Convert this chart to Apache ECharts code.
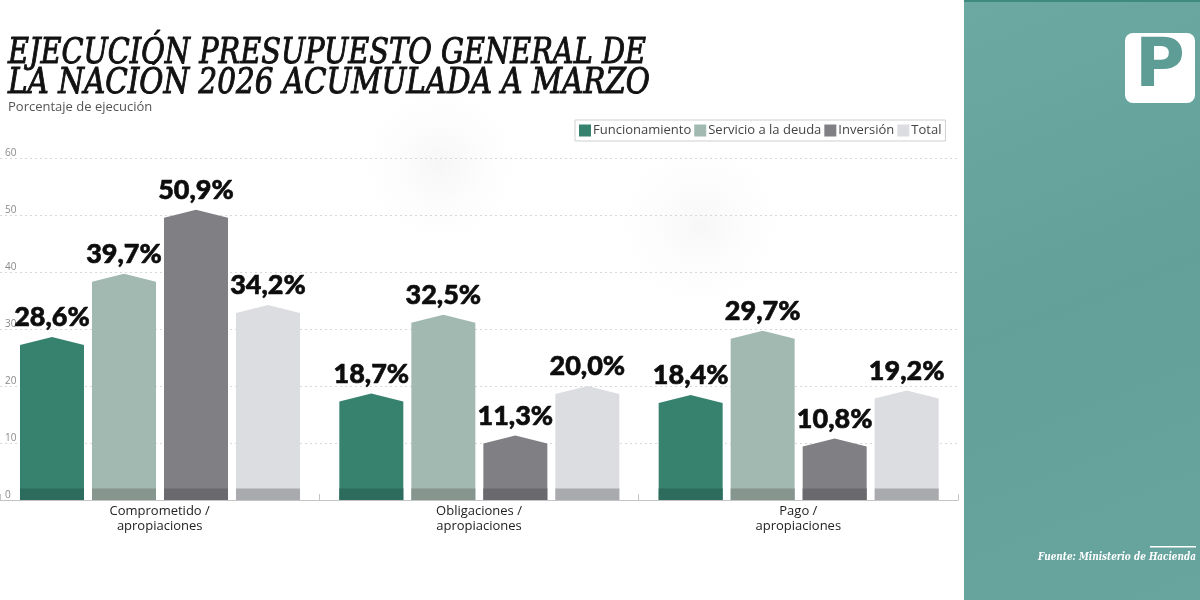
<!DOCTYPE html>
<html><head><meta charset="utf-8">
<script src="https://cdn.jsdelivr.net/npm/echarts@6/dist/echarts.min.js"></script>
<style>html,body{margin:0;padding:0;background:#fff}#c{width:1200px;height:600px}</style>
</head><body><div id="c"></div>
<script>
const categories = ['Comprometido /\napropiaciones', 'Obligaciones /\napropiaciones', 'Pago /\napropiaciones'];
const seriesNames = ['Funcionamiento', 'Servicio a la deuda', 'Inversión', 'Total'];
const funcionamiento = [28.6, 18.7, 18.4];
const servicioDeuda = [39.7, 32.5, 29.7];
const inversion = [50.9, 11.3, 10.8];
const total = [34.2, 20.0, 19.2];
const yTicks = [0, 10, 20, 30, 40, 50, 60];

const seriesValues = [funcionamiento, servicioDeuda, inversion, total];
const mainColors = ['#37826f', '#a1b9b1', '#808084', '#dcdde1'];
const baseColors = ['#2d6b5c', '#86968f', '#6a6a6e', '#a9aaad'];

const chart = echarts.init(document.getElementById('c'));

function measure(font, txt){
  const cv = document.createElement('canvas').getContext('2d');
  cv.font = font; return cv.measureText(txt).width;
}
const titleFont = 'italic 35px "DejaVu Serif"';
const t1 = 'EJECUCIÓN PRESUPUESTO GENERAL DE';
const t2 = 'LA NACIÓN 2026 ACUMULADA A MARZO';
const sx1 = 638 / measure(titleFont, t1);
const sx2 = 642 / measure(titleFont, t2);
const srcFont = 'italic bold 11.5px "DejaVu Serif"';
const srcText = 'Fuente: Ministerio de Hacienda';
const sxSrc = 158 / measure(srcFont, srcText);

function renderItem(params, api){
  const si = params.seriesIndex;
  const band = api.size([1, 0])[0];
  const barW = band * 0.2004;
  const step = band * 0.2255;
  const catIdx = api.value(0);
  const val = api.value(1);
  const bandStart = api.coord([catIdx, 0])[0] - band / 2;
  const x0 = bandStart + band * 0.0626 + si * step;
  const x1 = x0 + barW;
  const top = api.coord([catIdx, val])[1];
  const base = api.coord([catIdx, 0])[1];
  const stripTop = api.coord([catIdx, 2])[1];
  const peak = 8;
  const xm = (x0 + x1) / 2;
  const label = val.toFixed(1).replace('.', ',') + '%';
  return {
    type: 'group',
    children: [
      { type: 'polygon', shape: { points: [[x0, base], [x0, top + peak], [xm, top], [x1, top + peak], [x1, base]] },
        style: { fill: mainColors[si] } },
      { type: 'rect', shape: { x: x0, y: stripTop, width: barW, height: base - stripTop },
        style: { fill: baseColors[si] } },
      { type: 'text', x: xm, y: top - 6,
        style: { text: label, fill: '#0d0d0d', font: '900 27px Lato', align: 'center', verticalAlign: 'bottom',
                 stroke: '#0d0d0d', lineWidth: 0.6 } }
    ]
  };
}

const series = seriesNames.map((name, i) => ({
  name: name,
  type: 'custom',
  renderItem: renderItem,
  itemStyle: { color: mainColors[i] },
  encode: { x: 0, y: 1 },
  data: seriesValues[i].map((v, j) => [j, v]),
  z: 3
}));

chart.setOption({
  backgroundColor: '#ffffff',
  animation: false,
  grid: { left: 0, right: 242, top: 158, bottom: 100 },
  legend: {
    data: seriesNames,
    left: 575, top: 120,
    padding: [4, 4, 4, 4],
    borderColor: '#cfcfcf', borderWidth: 1,
    itemWidth: 12, itemHeight: 12, itemGap: 3,
    icon: 'rect',
    textStyle: { fontFamily: '"Open Sans"', fontSize: 13, color: '#444', padding: [0, 0, 0, -3] }
  },
  xAxis: {
    type: 'category',
    data: categories,
    axisLine: { lineStyle: { color: '#c4c4c4', width: 1 } },
    axisTick: { show: true, inside: true, length: 6, lineStyle: { color: '#c4c4c4' } },
    axisLabel: { fontFamily: '"Open Sans"', fontSize: 13, color: '#222', lineHeight: 15, margin: 4 }
  },
  yAxis: {
    type: 'value', min: 0, max: 60, interval: 10,
    axisLine: { show: false }, axisTick: { show: false },
    axisLabel: { inside: true, margin: 5, verticalAlign: 'bottom', fontFamily: '"Open Sans"', fontSize: 10, color: '#8a8a8a' },
    splitLine: { lineStyle: { color: '#d8d8d8', type: [2, 3], width: 1 } }
  },
  graphic: [
    { type: 'circle', shape: { cx: 440, cy: 165, r: 85 }, silent: true, z: -10,
      style: { fill: new echarts.graphic.RadialGradient(0.5, 0.5, 0.5, [
        { offset: 0, color: 'rgba(244,244,244,0.8)' }, { offset: 1, color: 'rgba(252,252,252,0)' }]) } },
    { type: 'circle', shape: { cx: 700, cy: 225, r: 90 }, silent: true, z: -10,
      style: { fill: new echarts.graphic.RadialGradient(0.5, 0.5, 0.5, [
        { offset: 0, color: 'rgba(245,245,245,0.8)' }, { offset: 1, color: 'rgba(252,252,252,0)' }]) } },
    { type: 'text', x: 8, y: 54, scaleX: sx1, z: 10,
      style: { text: t1, font: titleFont, fill: '#111', stroke: '#111', lineWidth: 1.0, verticalAlign: 'middle' } },
    { type: 'text', x: 8, y: 84, scaleX: sx2, z: 10,
      style: { text: t2, font: titleFont, fill: '#111', stroke: '#111', lineWidth: 1.0, verticalAlign: 'middle' } },
    { type: 'text', left: 8, top: 101, z: 10,
      style: { text: 'Porcentaje de ejecución', font: '13px "Open Sans"', fill: '#555' } },
    { type: 'rect', shape: { x: 964, y: 0, width: 236, height: 600 },
      style: { fill: new echarts.graphic.LinearGradient(0, 0, 1, 1, [
        { offset: 0, color: '#6da9a3' }, { offset: 0.5, color: '#64a09a' }, { offset: 1, color: '#69a59f' }]) }, z: 5 },
    { type: 'rect', shape: { x: 964, y: 0, width: 236, height: 2 }, style: { fill: '#3f8a80' }, z: 6 },
    { type: 'rect', shape: { x: 1125, y: 33, width: 70, height: 70, r: 8 }, style: { fill: '#ffffff' }, z: 7 },
    { type: 'text', x: 1160, y: 68, z: 8,
      style: { text: 'P', font: 'bold 68px "DejaVu Sans"', fill: '#5e9d96', align: 'center', verticalAlign: 'middle' } },
    { type: 'rect', shape: { x: 1150, y: 546, width: 46, height: 1.5 }, style: { fill: '#ffffff' }, z: 7 },
    { type: 'text', x: 1196, y: 557, scaleX: sxSrc, z: 8,
      style: { text: srcText, font: srcFont, fill: '#ffffff', align: 'right', verticalAlign: 'middle' } }
  ],
  series: series
});
</script></body></html>
